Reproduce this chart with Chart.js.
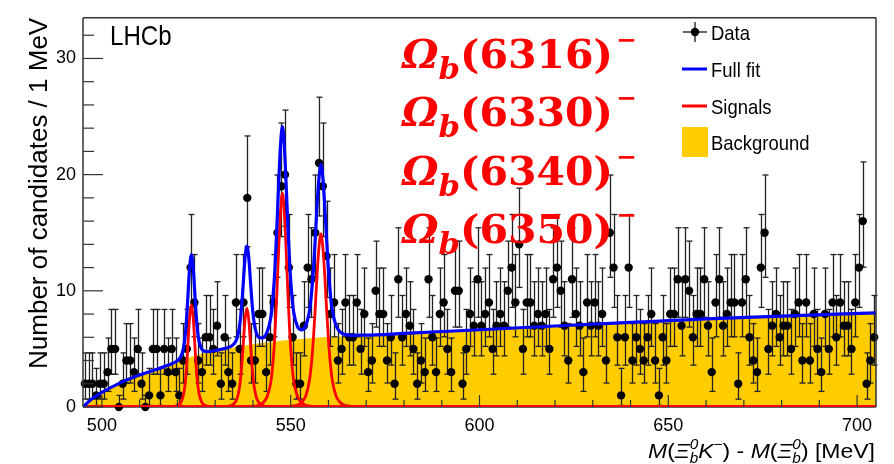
<!DOCTYPE html>
<html>
<head>
<meta charset="utf-8">
<script src="https://cdn.jsdelivr.net/npm/chart.js@4.4.1/dist/chart.umd.min.js"></script>
<style>
  html, body { margin: 0; padding: 0; background: #fff; }
</style>
</head>
<body>
<canvas id="massChart" width="894" height="464"></canvas>
<script>
// histogram: 1 MeV bins from 495 to 705 MeV
var binLow = 495;
var binWidth = 1;
var counts = [
  2, 2, 2, 1, 2, 2, 3, 5, 5, 0,
  2, 4, 4, 3, 5, 2, 0, 1, 5, 5,
  1, 5, 3, 5, 3, 1, 4, 5, 12, 9,
  4, 3, 6, 6, 5, 7, 2, 6, 3, 2,
  9, 5, 9, 18, 4, 4, 8, 8, 3, 6,
  9, 15, 19, 20, 12, 6, 2, 2, 7, 12,
  11, 15, 21, 19, 13, 8, 9, 4, 5, 9,
  6, 6, 9, 5, 8, 3, 4, 10, 8, 8,
  4, 6, 2, 11, 6, 8, 7, 5, 2, 4,
  3, 11, 6, 3, 8, 9, 5, 3, 10, 10,
  2, 5, 8, 7, 11, 7, 8, 9, 5, 7,
  8, 7, 10, 12, 9, 14, 5, 9, 9, 7,
  8, 7, 8, 5, 11, 12, 10, 7, 4, 11,
  8, 7, 3, 9, 7, 9, 7, 8, 4, 15,
  12, 6, 1, 6, 12, 4, 6, 5, 4, 6,
  8, 4, 1, 6, 4, 8, 8, 11, 7, 11,
  10, 6, 8, 8, 11, 7, 3, 9, 11, 7,
  8, 9, 9, 2, 9, 11, 6, 4, 3, 12,
  15, 5, 7, 8, 6, 7, 7, 5, 8, 9,
  4, 9, 4, 8, 5, 3, 8, 5, 9, 6,
  9, 7, 7, 5, 9, 12, 16, 2, 4, 6
];

// full fit (blue)
var fitMass = [495, 497, 500, 505, 510, 515, 518,
  519.7, 520.7, 521.2, 521.7, 522.2, 522.7, 523.2, 523.7, 524.2, 524.7, 525.2, 525.7, 526.2, 526.7, 527.7,
  530, 533, 534.4, 535.4, 535.9, 536.4, 536.9, 537.4, 537.9, 538.4, 538.9, 539.4, 539.9, 540.4, 540.9, 541.4, 542.4,
  543.8, 544.8, 545.3, 545.8, 546.3, 546.8, 547.3, 547.8, 548.3, 548.8, 549.3, 549.8, 550.3, 550.8, 551.8, 552.8,
  554, 555, 555.5, 556, 556.5, 557, 557.5, 558, 558.5, 559, 559.5, 560, 560.5, 561, 562, 563, 564, 566,
  570, 580, 600, 620, 640, 660, 680, 705];
var fitVal = [0, 0.6, 1.25, 2.1, 2.75, 3.3, 3.65,
  3.92, 4.23, 4.59, 5.25, 6.61, 9.07, 11.83, 13.09, 11.95, 9.31, 6.97, 5.71, 5.15, 4.89, 4.77,
  4.86, 5.07, 5.27, 5.62, 6.05, 6.82, 8.25, 10.47, 12.8, 13.84, 12.85, 10.57, 8.45, 7.09, 6.38, 6.03, 5.95,
  6.5, 7.84, 9.41, 11.73, 15.15, 19.07, 22.49, 24.13, 22.53, 19.14, 15.26, 11.92, 9.66, 8.15, 6.91, 6.64,
  7.01, 8.34, 9.73, 11.74, 14.45, 17.41, 19.77, 20.88, 19.79, 17.45, 14.51, 11.82, 9.78, 8.38, 7.01, 6.5, 6.28, 6.17,
  6.18, 6.33, 6.65, 6.97, 7.28, 7.58, 7.83, 8.1];

// background (yellow)
var bgMass = [495, 497, 500, 505, 510, 515, 520, 525, 530, 535, 540, 545, 550, 555, 560, 570, 580, 600, 620, 640, 660, 680, 705];
var bgVal = [0, 0.6, 1.25, 2.1, 2.75, 3.3, 3.85, 4.45, 4.85, 5.15, 5.4, 5.6, 5.78, 5.92, 6.02, 6.18, 6.33, 6.65, 6.97, 7.28, 7.58, 7.83, 8.1];

// signals (red)
var sig1Mass = [495, 517.7, 519.7, 520.7, 521.2, 521.7, 522.2, 522.7, 523.2, 523.7, 524.2, 524.7, 525.2, 525.7, 526.2, 526.7, 527.7, 529.7, 705];
var sig1Val = [0, 0.02, 0.1, 0.3, 0.6, 1.2, 2.5, 4.9, 7.6, 8.8, 7.6, 4.9, 2.5, 1.2, 0.6, 0.3, 0.1, 0.02, 0];
var sig2Mass = [495, 529.4, 532.4, 534.4, 535.4, 535.9, 536.4, 536.9, 537.4, 537.9, 538.4, 538.9, 539.4, 539.9, 540.4, 540.9, 541.4, 542.4, 544.4, 547.4, 705];
var sig2Val = [0, 0.01, 0.03, 0.15, 0.45, 0.85, 1.6, 3.0, 5.2, 7.5, 8.5, 7.5, 5.2, 3.0, 1.6, 0.85, 0.45, 0.15, 0.03, 0.01, 0];
var sig3Mass = [495, 535.8, 539.8, 541.8, 542.8, 543.8, 544.8, 545.3, 545.8, 546.3, 546.8, 547.3, 547.8, 548.3, 548.8, 549.3, 549.8, 550.3, 550.8, 551.8, 552.8, 553.8, 555.8, 559.8, 705];
var sig3Val = [0, 0.01, 0.05, 0.18, 0.41, 0.92, 2.25, 3.8, 6.1, 9.5, 13.4, 16.8, 18.4, 16.8, 13.4, 9.5, 6.1, 3.8, 2.25, 0.92, 0.41, 0.18, 0.05, 0.01, 0];
var sig4Mass = [495, 546, 550, 552, 553, 554, 555, 555.5, 556, 556.5, 557, 557.5, 558, 558.5, 559, 559.5, 560, 560.5, 561, 562, 563, 564, 566, 570, 705];
var sig4Val = [0, 0.01, 0.06, 0.2, 0.43, 0.96, 2.35, 3.75, 5.8, 8.5, 11.45, 13.8, 14.9, 13.8, 11.45, 8.5, 5.8, 3.75, 2.35, 0.96, 0.43, 0.2, 0.06, 0.01, 0];

var xTickValues = [500, 550, 600, 650, 700];
var yTickValues = [0, 10, 20, 30];
var omegaStates = ['6316', '6330', '6340', '6350'];
var legendLabels = ['Data', 'Full fit', 'Signals', 'Background'];

var SANS = '"Liberation Sans", Arial, sans-serif';
var SERIF = '"DejaVu Serif", serif';
var BLUE = 'rgb(0,0,255)';
var RED = 'rgb(255,0,0)';
var YELLOW = 'rgb(255,204,0)';

function pairs(xs, ys) {
  var out = [];
  for (var i = 0; i < xs.length; i++) out.push({ x: xs[i], y: ys[i] });
  return out;
}

var dataPoints = [];
for (var i = 0; i < counts.length; i++) {
  dataPoints.push({ x: binLow + (i + 0.5) * binWidth, y: counts[i] });
}

// poisson (Garwood-like) interval
function errLow(n) { return n <= 0 ? 0 : n - Math.sqrt(n - 0.25); }
function errHigh(n) { return n <= 0 ? 1 : n + 1 + Math.sqrt(n + 0.75); }

function measureRuns(ctx, runs) {
  var total = 0, held = 0;
  for (var i = 0; i < runs.length; i++) {
    ctx.font = runs[i].font;
    var w = ctx.measureText(runs[i].text).width + (runs[i].dx || 0);
    if (runs[i].hold) { held = w; continue; }
    total += Math.max(w, held);
    held = 0;
  }
  return total;
}

function drawRuns(ctx, runs, x, y, sx, align) {
  var total = measureRuns(ctx, runs) * sx;
  var left = align === 'right' ? x - total : x;
  ctx.save();
  ctx.translate(left, y);
  ctx.scale(sx, 1);
  ctx.textAlign = 'left';
  ctx.textBaseline = 'alphabetic';
  var cx = 0, held = 0;
  for (var i = 0; i < runs.length; i++) {
    var r = runs[i];
    ctx.font = r.font;
    var w = ctx.measureText(r.text).width;
    ctx.fillText(r.text, cx + (r.dx || 0), r.dy || 0);
    w += (r.dx || 0);
    if (r.hold) { held = w; continue; }
    cx += Math.max(w, held);
    held = 0;
  }
  ctx.restore();
}

function squeezeText(ctx, text, x, y, font, sx) {
  ctx.save();
  ctx.font = font;
  ctx.translate(x, y);
  ctx.scale(sx, 1);
  ctx.textAlign = 'left';
  ctx.fillText(text, 0, 0);
  ctx.restore();
}

function line(ctx, x1, y1, x2, y2) {
  ctx.beginPath();
  ctx.moveTo(x1, y1);
  ctx.lineTo(x2, y2);
  ctx.stroke();
}

var rootStyle = {
  id: 'rootStyle',
  beforeDatasetsDraw: function (chart) {
    var ctx = chart.ctx, a = chart.chartArea;
    ctx.save();
    ctx.strokeStyle = '#333';
    ctx.lineWidth = 1.5;
    line(ctx, a.left, a.bottom, a.right, a.bottom);
    ctx.restore();
  },
  beforeDatasetDraw: function (chart, args) {
    if (chart.data.datasets[args.index].label !== 'Data') return;
    var ctx = chart.ctx, xs = chart.scales.x, ys = chart.scales.y;
    ctx.save();
    ctx.strokeStyle = '#222';
    ctx.lineWidth = 1.3;
    for (var i = 0; i < counts.length; i++) {
      var px = Math.round(xs.getPixelForValue(dataPoints[i].x)) + 0.5;
      var lo = ys.getPixelForValue(errLow(counts[i]));
      var hi = ys.getPixelForValue(errHigh(counts[i]));
      line(ctx, px, lo, px, hi);
      line(ctx, px - 3, hi, px + 3, hi);
      if (counts[i] > 0) line(ctx, px - 3, lo, px + 3, lo);
    }
    ctx.restore();
  },
  afterDatasetsDraw: function (chart) {
    var ctx = chart.ctx, a = chart.chartArea, xs = chart.scales.x, ys = chart.scales.y;
    ctx.save();
    ctx.strokeStyle = '#333';
    ctx.lineWidth = 1.2;
    for (var m = 500; m <= 700; m += 10) {
      var px = xs.getPixelForValue(m);
      line(ctx, px, a.bottom, px, a.bottom - (m % 50 === 0 ? 12 : 7));
    }
    for (var v = 0; v <= 32; v += 2) {
      var py = ys.getPixelForValue(v);
      line(ctx, a.left, py, a.left + (v % 10 === 0 ? 20 : 11), py);
    }
    ctx.lineWidth = 1.5;
    line(ctx, a.left, a.bottom, a.left, a.top);
    line(ctx, a.left, a.top, a.right, a.top);
    line(ctx, a.right, a.top, a.right, a.bottom);
    ctx.restore();
  },
  afterDraw: function (chart) {
    var ctx = chart.ctx;
    ctx.save();
    ctx.fillStyle = '#000';

    // experiment label
    squeezeText(ctx, 'LHCb', 110, 45, '28px ' + SANS, 0.86);

    // legend
    ctx.strokeStyle = '#000';
    ctx.lineWidth = 1.2;
    line(ctx, 683, 32, 707, 32);
    line(ctx, 695, 22, 695, 42);
    ctx.beginPath();
    ctx.arc(695, 32, 4.2, 0, Math.PI * 2);
    ctx.fill();
    ctx.lineWidth = 3;
    ctx.strokeStyle = BLUE;
    line(ctx, 682, 69, 707, 69);
    ctx.strokeStyle = RED;
    line(ctx, 682, 106, 707, 106);
    ctx.fillStyle = YELLOW;
    ctx.fillRect(682, 127, 26, 30);
    ctx.fillStyle = '#000';
    var legendY = [40, 77, 114, 150];
    for (var k = 0; k < legendLabels.length; k++) {
      squeezeText(ctx, legendLabels[k], 711, legendY[k], '21px ' + SANS, 0.88);
    }

    // state names
    ctx.fillStyle = RED;
    for (var s = 0; s < omegaStates.length; s++) {
      var runs = [
        { text: 'Ω', font: 'italic bold 40px ' + SERIF },
        { text: 'b', font: 'italic bold 30px ' + SERIF, dy: 11 },
        { text: '(' + omegaStates[s] + ')', font: 'bold 40px ' + SERIF },
        { text: '−', font: 'bold 24px ' + SERIF, dy: -20, dx: 3 }
      ];
      var sx = 211 / measureRuns(ctx, runs.slice(0, 3));
      drawRuns(ctx, runs, 402, 68 + s * 58.3, sx, 'left');
    }

    // x axis title
    ctx.fillStyle = '#000';
    var big = '21px ' + SANS, bigI = 'italic 21px ' + SANS, smallI = 'italic 14px ' + SANS, small = '14px ' + SANS;
    var title = [
      { text: 'M', font: bigI }, { text: '(', font: big }, { text: 'Ξ', font: bigI },
      { text: '0', font: smallI, dy: -9, hold: true }, { text: 'b', font: smallI, dy: 5 },
      { text: 'K', font: bigI }, { text: '−', font: small, dy: -9 }, { text: ')', font: big },
      { text: ' - ', font: big },
      { text: 'M', font: bigI }, { text: '(', font: big }, { text: 'Ξ', font: bigI },
      { text: '0', font: smallI, dy: -9, hold: true }, { text: 'b', font: smallI, dy: 5 },
      { text: ')', font: big }, { text: ' [MeV]', font: big }
    ];
    var tsx = 227 / measureRuns(ctx, title);
    drawRuns(ctx, title, 875, 458, tsx, 'right');
    ctx.restore();
  }
};

var ctx = document.getElementById('massChart');
var massChart = new Chart(ctx, {
  type: 'line',
  data: {
    datasets: [
      {
        label: 'Full fit',
        data: pairs(fitMass, fitVal),
        borderColor: BLUE,
        borderWidth: 3.2,
        pointRadius: 0,
        cubicInterpolationMode: 'monotone',
        order: 0
      },
      {
        label: 'Signal 1',
        data: pairs(sig1Mass, sig1Val),
        borderColor: RED,
        borderWidth: 2.8,
        pointRadius: 0,
        cubicInterpolationMode: 'monotone',
        order: 1
      },
      {
        label: 'Signal 2',
        data: pairs(sig2Mass, sig2Val),
        borderColor: RED,
        borderWidth: 2.8,
        pointRadius: 0,
        cubicInterpolationMode: 'monotone',
        order: 1
      },
      {
        label: 'Signal 3',
        data: pairs(sig3Mass, sig3Val),
        borderColor: RED,
        borderWidth: 2.8,
        pointRadius: 0,
        cubicInterpolationMode: 'monotone',
        order: 1
      },
      {
        label: 'Signal 4',
        data: pairs(sig4Mass, sig4Val),
        borderColor: RED,
        borderWidth: 2.8,
        pointRadius: 0,
        cubicInterpolationMode: 'monotone',
        order: 1
      },
      {
        label: 'Data',
        data: dataPoints,
        showLine: false,
        pointRadius: 4.2,
        pointHoverRadius: 4.2,
        pointBackgroundColor: '#000',
        pointBorderWidth: 0,
        clip: false,
        order: 2
      },
      {
        label: 'Background',
        data: pairs(bgMass, bgVal),
        borderWidth: 0,
        borderColor: YELLOW,
        backgroundColor: YELLOW,
        fill: 'origin',
        pointRadius: 0,
        cubicInterpolationMode: 'monotone',
        order: 3
      }
    ]
  },
  options: {
    responsive: false,
    animation: false,
    events: [],
    layout: { padding: { left: 20, right: 18, top: 8, bottom: 0 } },
    plugins: {
      legend: { display: false },
      tooltip: { enabled: false }
    },
    scales: {
      x: {
        type: 'linear',
        min: 495,
        max: 705,
        grid: { display: false, drawTicks: false },
        border: { display: false },
        ticks: {
          color: '#000',
          padding: 8,
          maxRotation: 0,
          font: { family: SANS, size: 18 }
        },
        afterBuildTicks: function (scale) {
          scale.ticks = xTickValues.map(function (v) { return { value: v }; });
        },
        afterFit: function (scale) { scale.height = 57; }
      },
      y: {
        min: 0,
        max: 33.5,
        grid: { display: false, drawTicks: false },
        border: { display: false },
        ticks: {
          color: '#000',
          padding: 7,
          font: { family: SANS, size: 18 }
        },
        afterBuildTicks: function (scale) {
          scale.ticks = yTickValues.map(function (v) { return { value: v }; });
        },
        afterFit: function (scale) { scale.width = 63; },
        title: {
          display: true,
          text: 'Number of candidates / 1 MeV',
          align: 'end',
          color: '#000',
          padding: { top: 4, bottom: 0 },
          font: { family: SANS, size: 26 }
        }
      }
    }
  },
  plugins: [rootStyle]
});
</script>
</body>
</html>
